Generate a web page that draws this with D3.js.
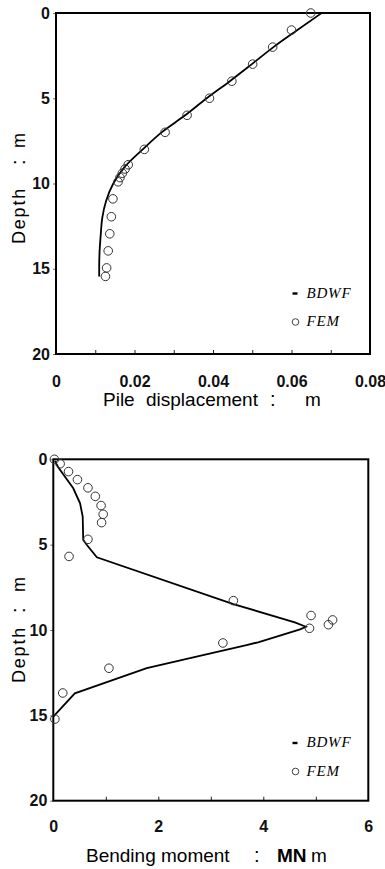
<!DOCTYPE html>
<html><head><meta charset="utf-8">
<script src="https://cdn.jsdelivr.net/npm/d3@7"></script>
<style>
body{margin:0;background:#fff;}
svg{display:block;}
</style></head>
<body>
<svg id="c" width="385" height="869"></svg>
<script>
// ---- Data: top chart (pile displacement) ----
const dispXTicks = [0, 0.02, 0.04, 0.06, 0.08];
const dispXTickLabels = ["0", "0.02", "0.04", "0.06", "0.08"];
const depthTicks = [0, 5, 10, 15, 20];
const dispBDWF_x = [0.0677, 0.0615, 0.0554, 0.0499, 0.0443, 0.0384, 0.0329, 0.0269, 0.0221, 0.0176, 0.0146, 0.0128, 0.0118, 0.0114, 0.0111, 0.0110, 0.0110];
const dispBDWF_depth = [0, 1, 2, 3, 4, 5, 6, 7, 8, 9, 10, 11, 12, 13, 14, 15, 15.45];
const dispFEM_x = [0.0649, 0.0600, 0.0552, 0.0501, 0.0448, 0.0391, 0.0334, 0.0278, 0.0225, 0.0184, 0.0176, 0.0169, 0.0163, 0.0158, 0.0145, 0.0141, 0.0137, 0.0133, 0.0129, 0.0126];
const dispFEM_depth = [0, 1, 2, 3, 4, 5, 6, 7, 8, 8.9, 9.15, 9.4, 9.65, 9.9, 10.9, 11.95, 12.95, 13.95, 14.95, 15.45];

// ---- Data: bottom chart (bending moment) ----
const momXTicks = [0, 2, 4, 6];
const momXTickLabels = ["0", "2", "4", "6"];
const momBDWF_x = [0.03, 0.10, 0.38, 0.51, 0.56, 0.57, 0.64, 0.83, 3.43, 4.60, 4.81, 4.70, 3.90, 3.68, 2.79, 1.78, 0.41, 0.0];
const momBDWF_depth = [0.1, 0.5, 1.7, 2.58, 3.36, 4.73, 5.02, 5.74, 8.48, 9.55, 9.81, 9.96, 10.72, 10.88, 11.52, 12.24, 13.71, 15.08];
const momFEM_x = [0.02, 0.13, 0.29, 0.46, 0.66, 0.80, 0.91, 0.95, 0.92, 0.66, 0.30, 3.43, 4.91, 4.88, 5.24, 5.32, 3.23, 1.06, 0.18, 0.03];
const momFEM_depth = [0.0, 0.26, 0.72, 1.19, 1.67, 2.17, 2.71, 3.22, 3.71, 4.69, 5.69, 8.28, 9.15, 9.9, 9.69, 9.41, 10.76, 12.24, 13.69, 15.22];

const legendLabels = ["BDWF", "FEM"];
const dispTitleParts = ["Pile", "displacement", ":", "m"];
const momTitleParts = ["Bending", "moment", ":", "MN", "m"];
const depthTitleParts = ["Depth", ":", "m"];

const svg = d3.select("#c");
const sans = '"Liberation Sans", Arial, sans-serif';
const serif = '"Liberation Serif", "Times New Roman", serif';

function drawPanel(cfg) {
  const g = svg.append("g");
  const x = d3.scaleLinear().domain(cfg.xDomain).range([cfg.left, cfg.right]);
  const y = d3.scaleLinear().domain([0, 20]).range([cfg.top, cfg.bottom]);

  // minor inward ticks on bottom
  g.append("g").attr("transform", `translate(0,${cfg.bottom})`)
    .call(d3.axisBottom(x).tickValues(cfg.minorTicks).tickSize(-4).tickFormat(""))
    .call(s => s.select(".domain").remove())
    .call(s => s.selectAll("line").attr("stroke", "#222").attr("stroke-width", 1));

  // bottom labels
  g.append("g").attr("transform", `translate(0,${cfg.bottom})`)
    .call(d3.axisBottom(x).tickValues(cfg.xTicks).tickSize(0).tickPadding(0)
      .tickFormat((d, i) => cfg.xTickLabels[i]))
    .call(s => s.select(".domain").remove())
    .call(s => s.selectAll("text").attr("font-size", 16).attr("font-weight", "bold").attr("fill", "#111")
      .attr("font-family", sans).attr("dy", null).attr("y", cfg.tickLabelDy));

  // left labels
  g.append("g").attr("transform", `translate(${cfg.left},0)`)
    .call(d3.axisLeft(y).tickValues(depthTicks).tickSize(3).tickPadding(3))
    .call(s => s.select(".domain").remove())
    .call(s => s.selectAll("line").attr("stroke", "#444").attr("stroke-width", 0.8))
    .call(s => s.selectAll("text").attr("font-size", 16).attr("font-weight", "bold").attr("fill", "#111")
      .attr("font-family", sans));

  // frame
  g.append("rect").attr("x", cfg.left).attr("y", cfg.top)
    .attr("width", cfg.right - cfg.left).attr("height", cfg.bottom - cfg.top)
    .attr("fill", "none").attr("stroke", "#000").attr("stroke-width", 2);

  // BDWF line
  const pts = cfg.lineX.map((v, i) => [v, cfg.lineDepth[i]]);
  g.append("path").datum(pts)
    .attr("d", d3.line().x(d => x(d[0])).y(d => y(d[1])).curve(cfg.curve))
    .attr("fill", "none").attr("stroke", "#000").attr("stroke-width", 1.8);

  // FEM circles
  const fem = cfg.femX.map((v, i) => [v, cfg.femDepth[i]]);
  g.append("g").selectAll("circle").data(fem).join("circle")
    .attr("cx", d => x(d[0])).attr("cy", d => y(d[1])).attr("r", 4.3)
    .attr("fill", "none").attr("stroke", "#333").attr("stroke-width", 1);

  // legend
  g.append("rect").attr("x", cfg.legX - 3).attr("y", cfg.legY1 - 1.2)
    .attr("width", 5).attr("height", 2.4).attr("fill", "#000");
  g.append("text").attr("x", cfg.legX + 11).attr("y", cfg.legY1 + 4)
    .attr("font-family", serif).attr("font-style", "italic").attr("font-size", 15)
    .attr("letter-spacing", 0.8).text(legendLabels[0]);
  g.append("circle").attr("cx", cfg.legX).attr("cy", cfg.legY2).attr("r", 3.3)
    .attr("fill", "none").attr("stroke", "#444").attr("stroke-width", 1);
  g.append("text").attr("x", cfg.legX + 11).attr("y", cfg.legY2 + 4)
    .attr("font-family", serif).attr("font-style", "italic").attr("font-size", 15)
    .attr("letter-spacing", 0.8).text(legendLabels[1]);

  // x axis title (pieces placed at measured positions)
  const xt = g.append("text").attr("y", cfg.titleY)
    .attr("font-family", sans).attr("font-size", 19).attr("fill", "#000");
  cfg.xTitleParts.forEach((t, i) => {
    xt.append("tspan").attr("x", cfg.xTitlePos[i])
      .attr("font-weight", t === "MN" ? "bold" : null)
      .attr("font-size", t === ":" ? 20 : null).text(t);
  });

  // y axis title (rotated)
  const yt = g.append("text")
    .attr("transform", `translate(${cfg.yTitleX},0) rotate(-90)`)
    .attr("font-family", sans).attr("font-size", 18).attr("fill", "#000");
  depthTitleParts.forEach((t, i) => {
    yt.append("tspan").attr("x", -cfg.yTitlePos[i])
      .attr("letter-spacing", t === "Depth" ? 1.8 : null)
      .attr("font-size", t === ":" ? 20 : null).text(t);
  });
}

drawPanel({
  left: 56, right: 370, top: 13, bottom: 354,
  xDomain: [0, 0.08], xTicks: dispXTicks, xTickLabels: dispXTickLabels,
  minorTicks: d3.range(1, 8).map(i => i / 100),
  tickLabelDy: 33,
  lineX: dispBDWF_x, lineDepth: dispBDWF_depth, curve: d3.curveMonotoneY,
  femX: dispFEM_x, femDepth: dispFEM_depth,
  legX: 295.5, legY1: 293.5, legY2: 322,
  xTitleParts: dispTitleParts, xTitlePos: [103, 146, 270, 305], titleY: 406,
  yTitleX: 25, yTitlePos: [244, 165, 148]
});

drawPanel({
  left: 53.3, right: 368.3, top: 459.3, bottom: 800.7,
  xDomain: [0, 6], xTicks: momXTicks, xTickLabels: momXTickLabels,
  minorTicks: [1, 2, 3, 4, 5],
  tickLabelDy: 31,
  lineX: momBDWF_x, lineDepth: momBDWF_depth, curve: d3.curveLinear,
  femX: momFEM_x, femDepth: momFEM_depth,
  legX: 295.5, legY1: 743, legY2: 771.5,
  xTitleParts: momTitleParts, xTitlePos: [86, 161, 254, 277, 311], titleY: 862,
  yTitleX: 25, yTitlePos: [683, 613, 592]
});
</script>
</body></html>
